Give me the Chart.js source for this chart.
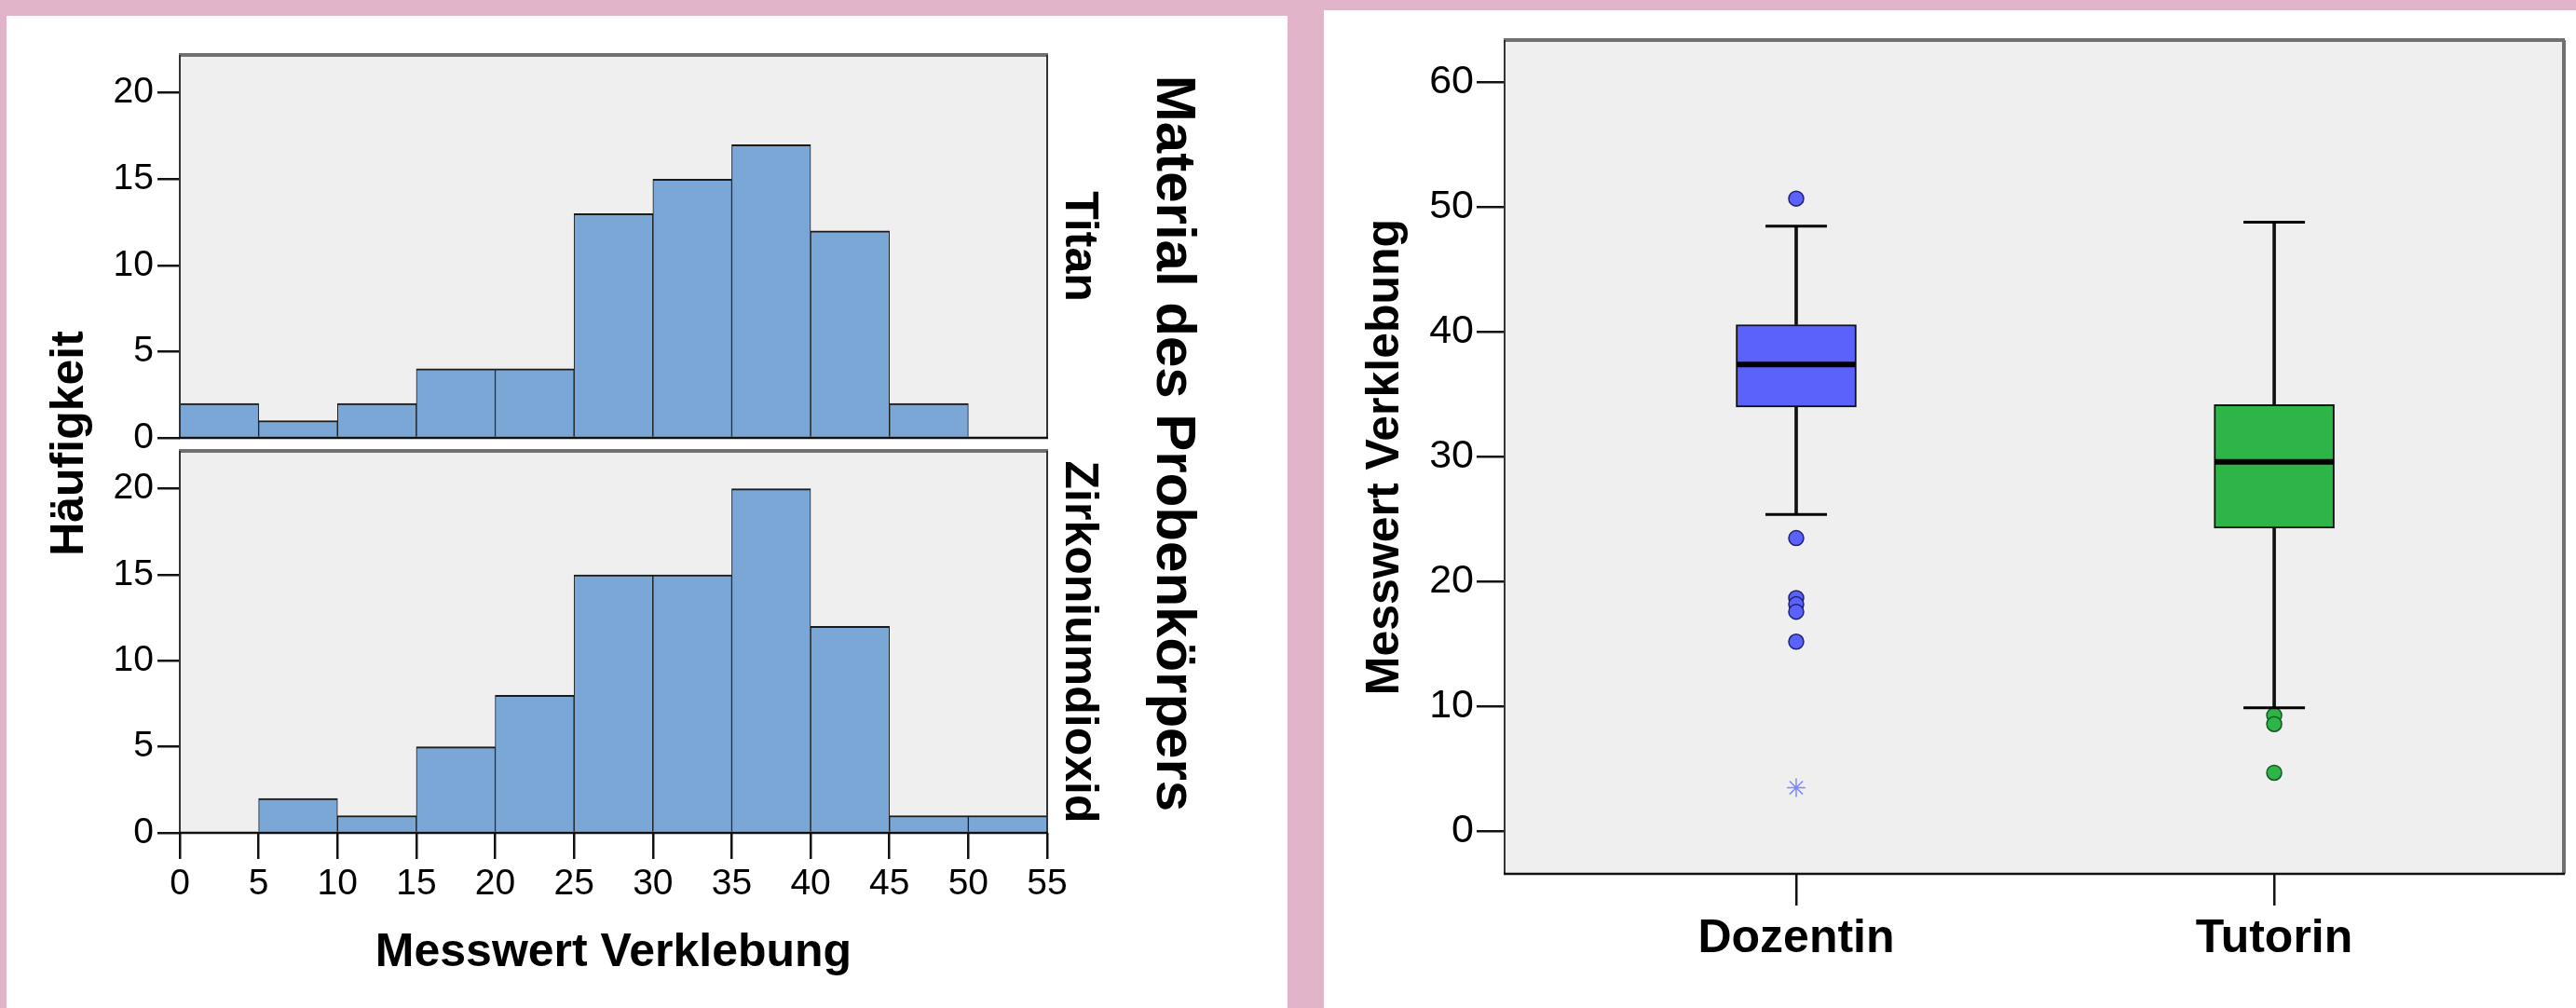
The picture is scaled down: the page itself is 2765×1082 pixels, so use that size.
<!DOCTYPE html>
<html>
<head>
<meta charset="utf-8">
<script src="https://cdn.jsdelivr.net/npm/chart.js@4.4.1/dist/chart.umd.min.js"></script>
<style>
  body { margin: 0; width: 2765px; height: 1082px; background: #e2b4c9; position: relative; overflow: hidden;
         font-family: 'Liberation Sans', Arial, sans-serif; }
  .panel { position: absolute; background: #fff; }
  canvas { position: absolute; }
  .vlabel { position: absolute; font-weight: bold; white-space: nowrap; line-height: 1; color: #000; }
</style>
</head>
<body>
<div class="panel" style="left:7px;top:17px;width:1375px;height:1065px"></div>
<div class="panel" style="left:1421px;top:11px;width:1344px;height:1071px"></div>
<div class="vlabel" style="left:72px;top:476px;font-size:50px;transform:translate(-50%,-50%) rotate(-90deg)">Häufigkeit</div>
<div class="vlabel" style="left:1262px;top:476px;font-size:60px;transform:translate(-50%,-50%) rotate(90deg)">Material des Probenkörpers</div>
<canvas id="titanChart" style="left:80px;top:17px" width="1120" height="483"></canvas>
<canvas id="zirkonChart" style="left:80px;top:440px" width="1120" height="642"></canvas>
<canvas id="boxChart" style="left:1421px;top:11px" width="1344" height="1071"></canvas>
<script>
// histogram data (bin starts, width 5)
const binStarts = [0, 5, 10, 15, 20, 25, 30, 35, 40, 45, 50];
const titanCounts = [2, 1, 2, 4, 4, 13, 15, 17, 12, 2, 0];
const zirkonCounts = [0, 2, 1, 5, 8, 15, 15, 20, 12, 1, 1];
const histXTicks = [0, 5, 10, 15, 20, 25, 30, 35, 40, 45, 50, 55];
const histYTicks = [0, 5, 10, 15, 20];

// boxplot data
const groups = ['Dozentin', 'Tutorin'];
const whiskerLow = [25.4, 9.9];
const q1 = [34.0, 24.3];
const median = [37.4, 29.6];
const q3 = [40.6, 34.2];
const whiskerHigh = [48.5, 48.8];
const outliersDozentin = [50.7, 23.5, 18.7, 18.2, 17.6, 15.2];
const outliersTutorin = [9.3, 8.6, 4.7];
const extremesDozentin = [3.5];
const boxYTicks = [0, 10, 20, 30, 40, 50, 60];

Chart.defaults.font.family = "'Liberation Sans', Arial, sans-serif";
Chart.defaults.color = '#000';

// grey plot background + frame like SPSS
const plotFrame = {
  id: 'plotFrame',
  beforeDraw(chart, args, opts) {
    const { ctx, chartArea: a } = chart;
    ctx.save();
    ctx.fillStyle = '#efefef';
    ctx.fillRect(a.left, a.top, a.width, a.height);
    ctx.restore();
  },
  afterDatasetsDraw(chart, args, opts) {
    const { ctx, chartArea: a } = chart;
    const seg = (x1, y1, x2, y2, color, w) => {
      ctx.beginPath();
      ctx.strokeStyle = color;
      ctx.lineWidth = w;
      ctx.moveTo(x1, y1);
      ctx.lineTo(x2, y2);
      ctx.stroke();
    };
    ctx.save();
    seg(a.left - 1, a.top, a.right + 1, a.top, '#707070', 4);
    seg(a.right, a.top, a.right, a.bottom, opts.rightColor || '#333', opts.rightWidth || 2);
    seg(a.left, a.top, a.left, a.bottom, '#333', 2);
    seg(a.left - 1, a.bottom, a.right + 1, a.bottom, '#111', 2.5);
    ctx.restore();
  }
};

function tickGrid(len) {
  return { display: true, drawOnChartArea: false, drawTicks: true, tickLength: len, color: '#111', lineWidth: 2.5 };
}

function histChart(id, counts, sideTitle, showX, padding) {
  const scales = {
    x: {
      type: 'linear', min: 0, max: 55, offset: false, display: showX,
      grid: Object.assign(tickGrid(28), { offset: false }),
      border: { display: false },
      afterBuildTicks: s => { s.ticks = histXTicks.map(v => ({ value: v })); },
      ticks: { font: { size: 39 }, padding: 4, maxRotation: 0, autoSkip: false },
      title: { display: showX, text: 'Messwert Verklebung', font: { size: 50, weight: 'bold' }, padding: { top: 0, bottom: 29 } },
      afterFit: s => { s.height = showX ? 188 : 0; }
    },
    y: {
      min: 0, max: 22.2,
      grid: tickGrid(24),
      border: { display: false },
      afterBuildTicks: s => { s.ticks = histYTicks.map(v => ({ value: v })); },
      ticks: { font: { size: 39 }, padding: 4 },
      afterFit: s => { s.width = 113; }
    },
    yr: {
      position: 'right', min: 0, max: 1,
      grid: { display: false }, border: { display: false }, ticks: { display: false },
      title: { display: true, text: sideTitle, font: { size: 50, weight: 'bold' }, padding: { top: 6, bottom: 0 } },
      afterFit: s => { s.width = 70; }
    }
  };
  return new Chart(document.getElementById(id), {
    type: 'bar',
    data: {
      datasets: [{
        data: counts.map((c, i) => ({ x: binStarts[i] + 2.5, y: c })),
        backgroundColor: '#7ba7d6',
        borderColor: '#1a1a1a',
        borderWidth: { top: 2, left: 1, right: 1, bottom: 0 },
        borderSkipped: false,
        barPercentage: 1,
        categoryPercentage: 1
      }]
    },
    options: {
      responsive: false,
      animation: false,
      layout: { padding: padding, autoPadding: false },
      plugins: { legend: { display: false }, tooltip: { enabled: false }, plotFrame: {} },
      scales: scales
    },
    plugins: [plotFrame]
  });
}

histChart('titanChart', titanCounts, 'Titan', false, { top: 42, right: 6, bottom: 30, left: 0 });
histChart('zirkonChart', zirkonCounts, 'Zirkoniumdioxid', true, { top: 44, right: 6, bottom: 0, left: 0 });

// boxplot built from floating bars + point markers
const blue = '#5b62fb';
const green = '#2db548';
const pts = (vals, gi) => vals.map(v => ({ x: gi + 1, y: v }));

new Chart(document.getElementById('boxChart'), {
  type: 'bar',
  data: {
    datasets: [
      {
        type: 'line', showLine: false, order: 0,
        data: groups.map((g, i) => ({ x: i + 1, y: median[i] })),
        pointStyle: 'line', pointRadius: 64, pointBorderWidth: 6, pointBorderColor: '#000'
      },
      {
        type: 'line', showLine: false, order: 1,
        data: groups.flatMap((g, i) => [{ x: i + 1, y: whiskerLow[i] }, { x: i + 1, y: whiskerHigh[i] }]),
        pointStyle: 'line', pointRadius: 33, pointBorderWidth: 3, pointBorderColor: '#000'
      },
      {
        type: 'line', showLine: false, order: 1,
        data: pts(outliersDozentin, 0),
        pointStyle: 'circle', pointRadius: 8, pointBorderWidth: 1.5,
        pointBackgroundColor: blue, pointBorderColor: '#1c2270'
      },
      {
        type: 'line', showLine: false, order: 1,
        data: pts(outliersTutorin, 1),
        pointStyle: 'circle', pointRadius: 8, pointBorderWidth: 1.5,
        pointBackgroundColor: green, pointBorderColor: '#125a20'
      },
      {
        type: 'line', showLine: false, order: 1,
        data: pts(extremesDozentin, 0),
        pointStyle: 'star', pointRadius: 10, pointBorderWidth: 1.5, pointBorderColor: '#8086ff'
      },
      {
        order: 5, grouped: false,
        data: groups.map((g, i) => ({ x: i + 1, y: [q1[i], q3[i]] })),
        backgroundColor: [blue, green],
        borderColor: '#111', borderWidth: 2, borderSkipped: false,
        barThickness: 129
      },
      {
        order: 6, grouped: false,
        data: groups.map((g, i) => ({ x: i + 1, y: [q3[i], whiskerHigh[i]] })),
        backgroundColor: '#111', borderWidth: 0, barThickness: 3
      },
      {
        order: 6, grouped: false,
        data: groups.map((g, i) => ({ x: i + 1, y: [whiskerLow[i], q1[i]] })),
        backgroundColor: '#111', borderWidth: 0, barThickness: 3
      }
    ]
  },
  options: {
    responsive: false,
    animation: false,
    layout: { padding: { top: 32, right: 13, bottom: 0, left: 0 }, autoPadding: false },
    plugins: { legend: { display: false }, tooltip: { enabled: false },
               plotFrame: { rightColor: '#707070', rightWidth: 4 } },
    scales: {
      x: {
        type: 'linear', min: 0.39, max: 2.606, offset: false,
        grid: Object.assign(tickGrid(34), { offset: false }),
        border: { display: false },
        afterBuildTicks: s => { s.ticks = groups.map((g, i) => ({ value: i + 1 })); },
        ticks: { font: { size: 50, weight: 'bold' }, padding: 6, maxRotation: 0, autoSkip: false,
                 callback: v => groups[v - 1] },
        afterFit: s => { s.height = 144; }
      },
      y: {
        min: -3.4, max: 63.4,
        grid: tickGrid(30),
        border: { display: false },
        afterBuildTicks: s => { s.ticks = boxYTicks.map(v => ({ value: v })); },
        ticks: { font: { size: 43 }, padding: 3 },
        title: { display: true, text: 'Messwert Verklebung', font: { size: 50, weight: 'bold' }, padding: { top: 36, bottom: 0 } },
        afterFit: s => { s.width = 194; }
      }
    }
  },
  plugins: [plotFrame]
});
</script>
</body>
</html>
